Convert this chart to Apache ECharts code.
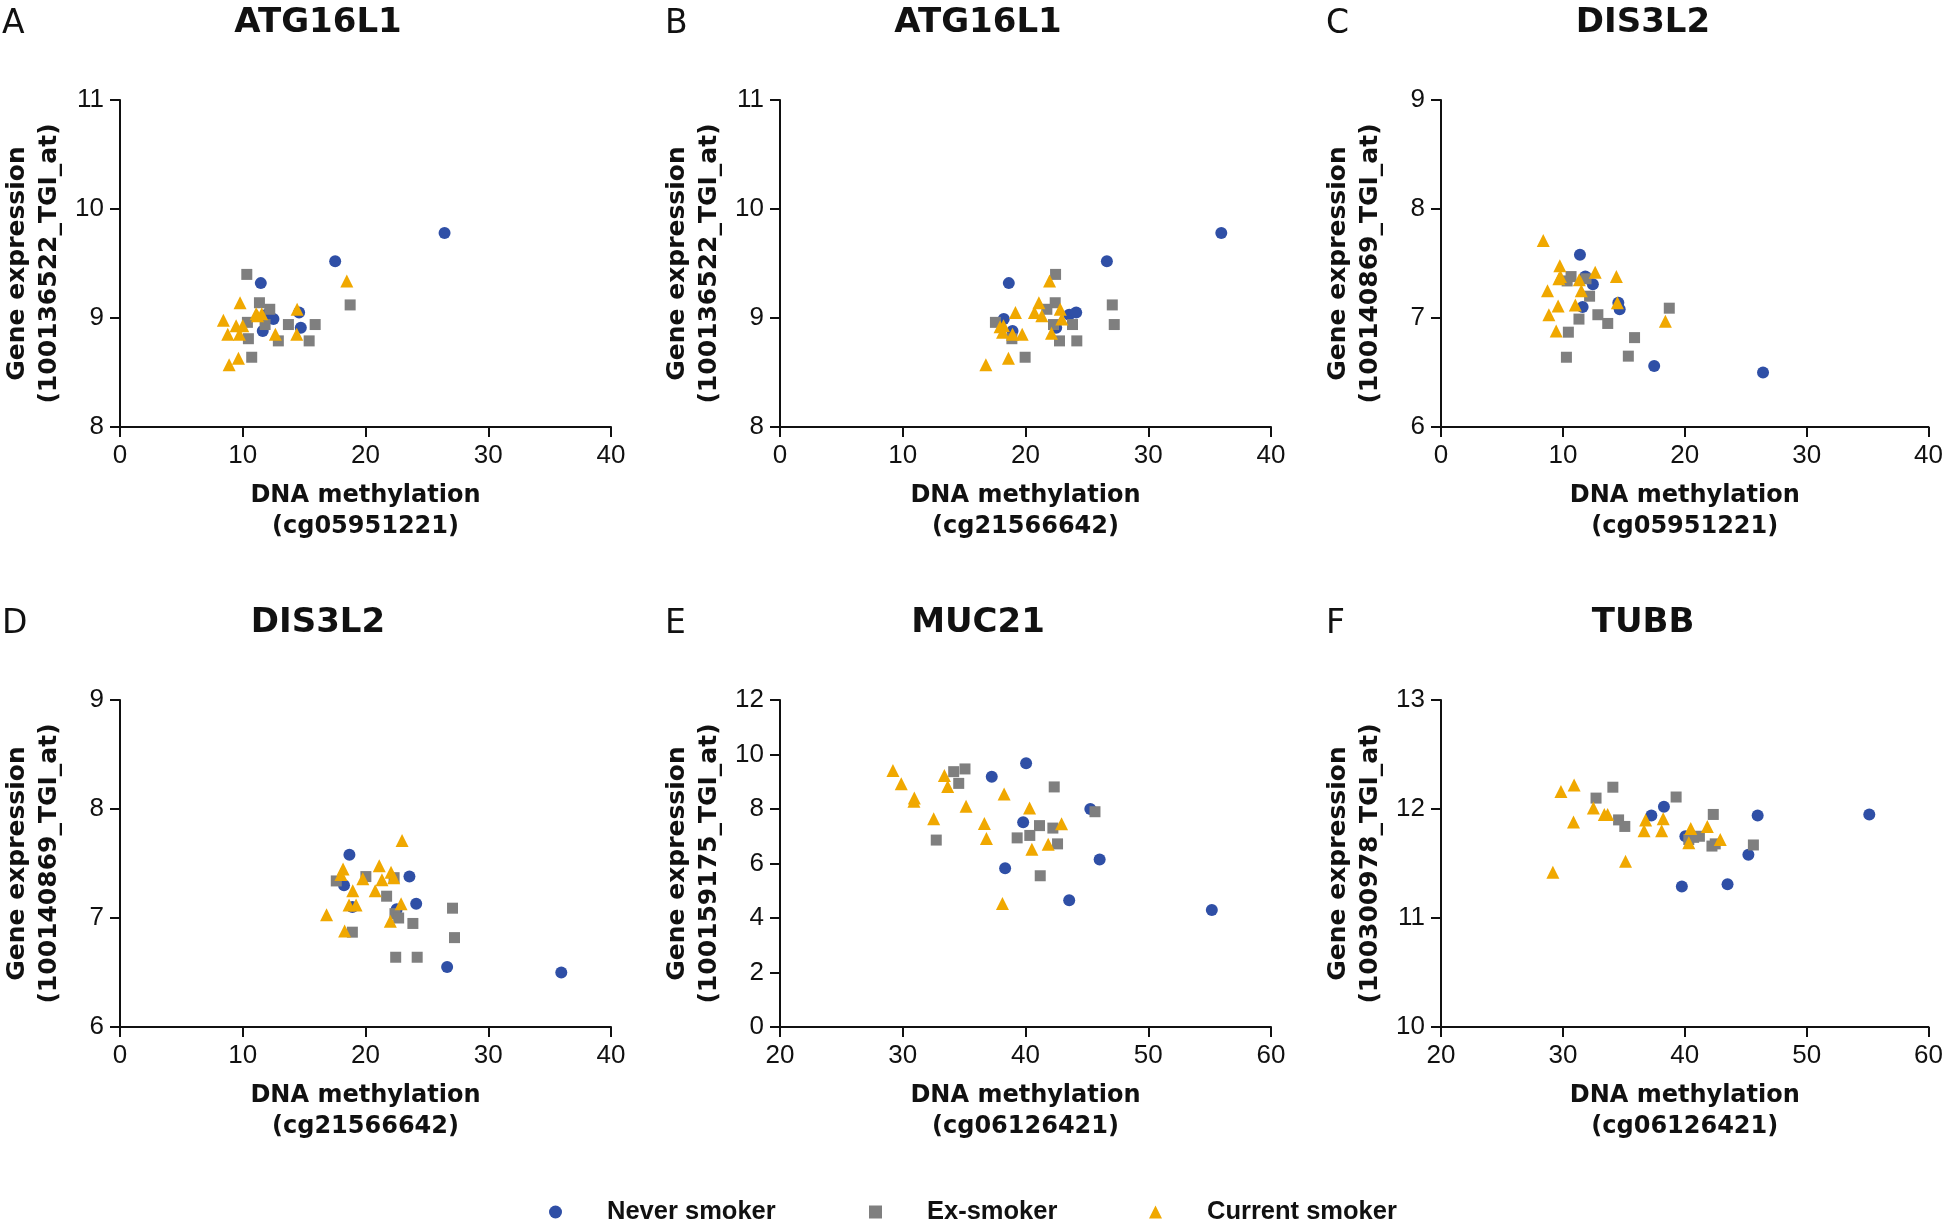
<!DOCTYPE html>
<html><head><meta charset="utf-8">
<script src="https://cdn.jsdelivr.net/npm/echarts@6/dist/echarts.min.js"></script>
<style>html,body{margin:0;padding:0;background:#fff}#c{width:1946px;height:1223px}</style>
</head><body><div id="c"></div>
<script>
// ---------- data ----------
const seriesNames = ['Never smoker', 'Ex-smoker', 'Current smoker'];
const panelLetters = ['A', 'B', 'C', 'D', 'E', 'F'];
const panelTitles = ['ATG16L1', 'ATG16L1', 'DIS3L2', 'DIS3L2', 'MUC21', 'TUBB'];
const yAxisNames = [
  'Gene expression\n(100136522_TGI_at)', 'Gene expression\n(100136522_TGI_at)',
  'Gene expression\n(100140869_TGI_at)', 'Gene expression\n(100140869_TGI_at)',
  'Gene expression\n(100159175_TGI_at)', 'Gene expression\n(100300978_TGI_at)'
];
const xAxisNames = [
  'DNA methylation\n(cg05951221)', 'DNA methylation\n(cg21566642)',
  'DNA methylation\n(cg05951221)', 'DNA methylation\n(cg21566642)',
  'DNA methylation\n(cg06126421)', 'DNA methylation\n(cg06126421)'
];
const xMin = [0, 0, 0, 0, 20, 20];
const xMax = [40, 40, 40, 40, 60, 60];
const xStep = [10, 10, 10, 10, 10, 10];
const yMin = [8, 8, 6, 6, 0, 10];
const yMax = [11, 11, 9, 9, 12, 13];
const yStep = [1, 1, 1, 1, 2, 1];

// Panel A: ATG16L1 vs cg05951221
const neverA = [[26.44,9.78],[17.53,9.52],[11.47,9.32],[11.93,9.03],[12.5,8.99],[11.63,8.88],[14.59,9.05],[14.73,8.91]];
const exA = [[10.33,9.40],[11.36,9.14],[12.2,9.08],[10.38,8.96],[11.82,8.94],[10.46,8.81],[12.9,8.79],[10.73,8.64],[13.72,8.94],[15.9,8.94],[15.41,8.79],[18.75,9.12]];
const currentA = [[8.42,8.98],[8.78,8.85],[8.89,8.57],[9.65,8.63],[9.46,8.93],[9.78,9.14],[9.73,8.85],[10.0,8.93],[11.09,9.04],[11.55,9.04],[11.2,9.02],[12.66,8.85],[14.43,9.08],[14.4,8.85],[18.48,9.34]];
// Panel B: ATG16L1 vs cg21566642
const neverB = [[35.95,9.78],[26.63,9.52],[18.64,9.32],[18.23,8.99],[18.94,8.88],[22.5,8.91],[23.56,9.03],[24.13,9.05]];
const exB = [[22.45,9.40],[22.42,9.14],[21.74,9.08],[17.55,8.96],[22.28,8.94],[23.83,8.94],[18.89,8.81],[22.77,8.79],[24.18,8.79],[19.97,8.64],[27.07,9.12],[27.23,8.94]];
const currentB = [[16.77,8.57],[18.61,8.63],[19.18,9.05],[17.93,8.92],[18.21,8.93],[18.13,8.87],[18.94,8.85],[19.73,8.85],[20.73,9.05],[21.09,9.14],[21.33,9.02],[21.96,9.34],[22.83,9.08],[22.96,8.99],[22.12,8.86]];
// Panel C: DIS3L2 vs cg05951221
const neverC = [[11.4,7.58],[11.84,7.38],[12.46,7.31],[14.55,7.14],[11.62,7.10],[14.66,7.08],[17.49,6.56],[26.42,6.50]];
const exC = [[10.35,7.34],[10.67,7.38],[11.9,7.36],[12.19,7.20],[18.73,7.09],[12.87,7.03],[11.32,6.99],[13.68,6.95],[10.45,6.87],[15.88,6.82],[10.29,6.64],[15.37,6.65]];
const currentC = [[8.39,7.71],[9.75,7.48],[9.8,7.38],[9.67,7.36],[8.74,7.25],[11.35,7.35],[11.51,7.25],[12.65,7.42],[14.39,7.38],[9.61,7.11],[8.85,7.03],[11.02,7.12],[9.45,6.88],[14.47,7.14],[18.41,6.97]];
// Panel D: DIS3L2 vs cg21566642
const neverD = [[18.69,7.58],[18.25,7.30],[23.58,7.38],[24.13,7.13],[22.54,7.08],[18.93,7.10],[26.65,6.55],[35.95,6.50]];
const exD = [[17.62,7.34],[20.03,7.38],[22.33,7.37],[21.72,7.20],[27.09,7.09],[22.4,7.04],[22.7,7.0],[23.86,6.95],[18.93,6.87],[27.25,6.82],[22.46,6.64],[24.21,6.64]];
const currentD = [[22.98,7.71],[18.17,7.45],[18.0,7.40],[21.12,7.48],[22.08,7.42],[22.3,7.37],[19.78,7.36],[21.34,7.35],[18.96,7.25],[20.79,7.25],[18.66,7.12],[19.23,7.12],[16.83,7.03],[22.9,7.13],[22.02,6.97],[18.3,6.88]];
// Panel E: MUC21 vs cg06126421
const neverE = [[40.05,9.68],[37.25,9.18],[45.28,8.0],[39.81,7.51],[46.04,6.15],[38.34,5.83],[43.56,4.65],[55.18,4.29]];
const exE = [[34.15,9.37],[35.07,9.47],[34.56,8.94],[42.34,8.81],[45.66,7.9],[41.14,7.39],[42.23,7.3],[40.35,7.03],[39.32,6.94],[42.61,6.72],[32.73,6.86],[41.2,5.55]];
const currentE = [[29.2,9.41],[29.88,8.93],[30.94,8.4],[30.91,8.28],[33.39,9.23],[33.66,8.83],[32.52,7.64],[35.16,8.1],[38.26,8.55],[40.33,8.04],[36.65,7.47],[36.82,6.92],[42.94,7.46],[41.85,6.71],[40.52,6.52],[38.12,4.53]];
// Panel F: TUBB vs cg06126421
const neverF = [[38.29,12.02],[37.26,11.94],[45.98,11.94],[55.14,11.95],[40.05,11.75],[45.22,11.58],[39.76,11.29],[43.51,11.31]];
const exF = [[34.1,12.2],[32.72,12.1],[39.29,12.11],[42.34,11.95],[34.57,11.9],[35.08,11.84],[40.73,11.74],[41.2,11.75],[42.23,11.66],[42.5,11.68],[45.63,11.67],[40.33,11.72]];
const currentF = [[29.84,12.16],[30.92,12.22],[32.5,12.01],[33.4,11.95],[33.67,11.95],[30.87,11.88],[29.18,11.42],[35.14,11.52],[36.79,11.9],[36.66,11.8],[38.23,11.91],[38.1,11.8],[40.49,11.82],[40.33,11.69],[41.85,11.84],[42.91,11.72]];

const panelData = [
  [neverA, exA, currentA], [neverB, exB, currentB], [neverC, exC, currentC],
  [neverD, exD, currentD], [neverE, exE, currentE], [neverF, exF, currentF]
];

// ---------- styling / layout ----------
const colors = ['#2F4FA6', '#7F7F7F', '#F0A800'];
const symbols = ['circle', 'rect', 'triangle'];
const symbolSizes = [12, 11, 13];
const colLeft = [120, 780, 1441];
const rowTop = [100, 700];
const gridW = 491, gridH = 327;
const titleCenter = [318, 978, 1643];
const letterLeft = [2, 665, 1326];
const tickFont = "'Liberation Sans Narrow', 'Liberation Sans', Arial, sans-serif";
const boldFont = "'DejaVu Sans', Verdana, sans-serif";

const grids = [], xAxes = [], yAxes = [], series = [], titles = [];
for (let i = 0; i < 6; i++) {
  const r = Math.floor(i / 3), c = i % 3;
  grids.push({ left: colLeft[c], top: rowTop[r], width: gridW, height: gridH, containLabel: false });
  const axisCommon = {
    axisLine: { show: true, onZero: false, lineStyle: { color: '#111', width: 2 } },
    axisTick: { show: true, inside: false, length: 10, lineStyle: { color: '#111', width: 2 } },
    splitLine: { show: false },
    axisLabel: { color: '#111', fontFamily: tickFont, fontSize: 26, margin: 16 },
    nameLocation: 'middle',
    nameTextStyle: { color: '#111', fontFamily: boldFont, fontWeight: 'bold', fontSize: 24, lineHeight: 31 }
  };
  xAxes.push(Object.assign({}, axisCommon, {
    type: 'value', gridIndex: i, min: xMin[i], max: xMax[i], interval: xStep[i],
    name: xAxisNames[i], nameGap: 53
  }));
  yAxes.push(Object.assign({}, axisCommon, {
    type: 'value', gridIndex: i, min: yMin[i], max: yMax[i], interval: yStep[i],
    name: yAxisNames[i], nameGap: 55, nameRotate: 90,
    nameTextStyle: Object.assign({}, axisCommon.nameTextStyle, { fontSize: 25, lineHeight: 32 })
  }));
  for (let s = 0; s < 3; s++) {
    series.push({
      type: 'scatter', name: seriesNames[s], xAxisIndex: i, yAxisIndex: i,
      data: panelData[i][s], symbol: symbols[s], symbolSize: symbolSizes[s],
      itemStyle: { color: colors[s], opacity: 1 },
      emphasis: { disabled: true }, z: 2 + s
    });
  }
  titles.push({
    text: panelTitles[i], left: titleCenter[c], top: rowTop[r] - 94, textAlign: 'center', padding: 0,
    textStyle: { fontFamily: boldFont, fontWeight: 'bold', fontSize: 34, color: '#111' }
  });
  titles.push({
    text: panelLetters[i], left: letterLeft[c], top: rowTop[r] - 92, padding: 0,
    textStyle: { fontFamily: boldFont, fontWeight: 'normal', fontSize: 33, color: '#111' }
  });
}

const legendLeft = [549, 869, 1149];
const legends = seriesNames.map((n, k) => ({
  data: [{ name: n, icon: symbols[k] }],
  left: legendLeft[k], top: 1199, itemWidth: 13, itemHeight: 13, padding: 0,
  formatter: '{g|}{t|' + n + '}',
  textStyle: {
    rich: {
      g: { width: 40 },
      t: { fontFamily: "'Liberation Sans', Arial, sans-serif", fontWeight: 'bold', fontSize: 25.5, color: '#111' }
    }
  }
}));

const chart = echarts.init(document.getElementById('c'), null, { renderer: 'canvas' });
chart.setOption({
  backgroundColor: '#fff',
  animation: false,
  title: titles,
  legend: legends,
  grid: grids,
  xAxis: xAxes,
  yAxis: yAxes,
  series: series
});
</script></body></html>
